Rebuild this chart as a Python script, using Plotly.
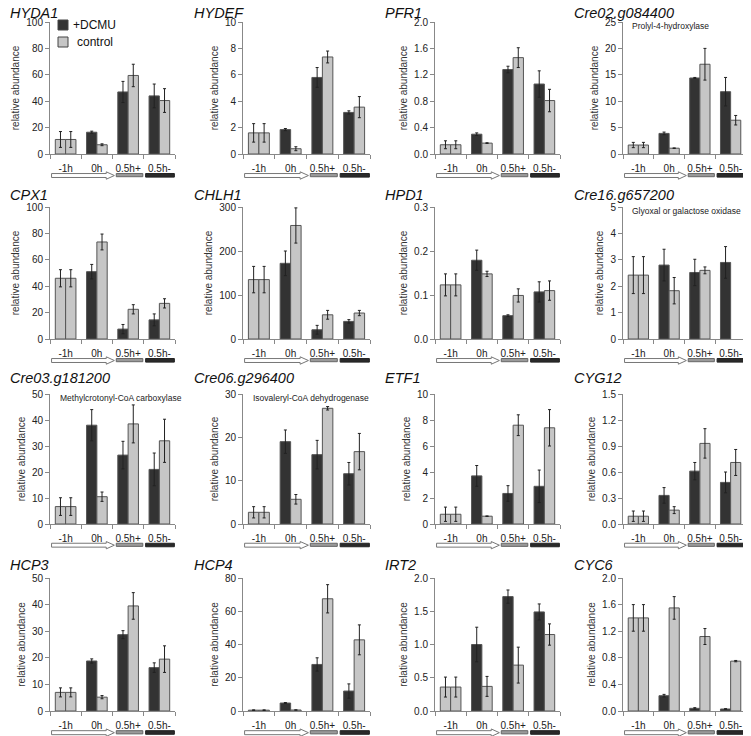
import plotly.graph_objects as go

# the page body has an 8px margin: the figure starts at (8, 8) on the page
OFF = 8
W, H = 751 - OFF, 736 - OFF

# categories / series
categories = ["-1h", "0h", "0.5h+", "0.5h-"]
genes = ["HYDA1", "HYDEF", "PFR1", "Cre02.g084400",
         "CPX1", "CHLH1", "HPD1", "Cre16.g657200",
         "Cre03.g181200", "Cre06.g296400", "ETF1", "CYG12",
         "HCP3", "HCP4", "IRT2", "CYC6"]
notes = {3: "Prolyl-4-hydroxylase", 7: "Glyoxal or galactose oxidase",
         8: "Methylcrotonyl-CoA carboxylase", 9: "Isovaleryl-CoA dehydrogenase"}

# +DCMU (first value = -1h reference, drawn in control colour)
dcmu_vals = [[11, 16.5, 47, 44], [1.6, 1.85, 5.8, 3.15], [0.14, 0.30, 1.28, 1.06], [1.7, 3.9, 14.4, 11.8],
             [46, 51, 7.5, 14.5], [135, 172, 21, 40], [0.123, 0.179, 0.053, 0.107], [2.42, 2.8, 2.52, 2.9],
             [6.7, 38, 26.5, 21], [2.7, 19, 16, 11.6], [0.75, 3.7, 2.35, 2.9], [0.09, 0.33, 0.61, 0.48],
             [7, 18.8, 28.7, 16.3], [0.5, 4.8, 28, 12], [0.36, 1.0, 1.72, 1.49], [1.4, 0.23, 0.04, 0.03]]
dcmu_errs = [[6, 0.8, 8, 9], [0.7, 0.08, 0.75, 0.12], [0.06, 0.02, 0.05, 0.2], [0.5, 0.25, 0.1, 2.7],
             [6.5, 5.5, 3.5, 4.5], [30, 28, 10, 4], [0.025, 0.023, 0.002, 0.023], [0.7, 0.6, 0.5, 0.6],
             [3.4, 6, 5.3, 6.3], [1.3, 2.7, 3.3, 2.6], [0.55, 0.8, 0.6, 1.25], [0.06, 0.09, 0.1, 0.12],
             [1.7, 0.8, 1.5, 1.8], [0.2, 0.3, 4, 4.3], [0.15, 0.26, 0.1, 0.12], [0.2, 0.02, 0.01, 0.005]]
ctrl_vals = [[11, 7, 59.5, 40.5], [1.6, 0.4, 7.35, 3.55], [0.14, 0.165, 1.46, 0.81], [1.7, 1.1, 17.0, 6.4],
             [46, 73.5, 22.5, 27], [135, 258, 55, 59], [0.123, 0.148, 0.099, 0.110], [2.42, 1.83, 2.6, None],
             [6.7, 10.5, 38.5, 32], [2.7, 5.7, 26.7, 16.7], [0.75, 0.6, 7.6, 7.4], [0.09, 0.16, 0.93, 0.71],
             [7, 5.2, 39.5, 19.5], [0.5, 0.6, 67.5, 42.8], [0.36, 0.37, 0.69, 1.15], [1.4, 1.55, 1.12, 0.75]]
ctrl_errs = [[6, 0.7, 8.5, 9], [0.7, 0.15, 0.45, 0.8], [0.06, 0.005, 0.15, 0.17], [0.5, 0.05, 3.0, 0.9],
             [6.5, 6, 3.5, 3.5], [30, 40, 10, 6], [0.025, 0.006, 0.015, 0.022], [0.7, 0.5, 0.13, None],
             [3.4, 1.8, 7.3, 8.3], [1.3, 1.1, 0.4, 4.2], [0.55, 0.02, 0.8, 1.4], [0.06, 0.04, 0.17, 0.15],
             [1.7, 0.6, 5, 5], [0.2, 0.1, 8.5, 9], [0.15, 0.15, 0.27, 0.16], [0.2, 0.17, 0.12, 0.01]]

y_max = [100, 10, 2.0, 25, 100, 300, 0.3, 5, 50, 30, 10, 1.5, 50, 80, 2.0, 2.0]
y_step = [20, 2, 0.4, 5, 20, 100, 0.1, 1, 10, 10, 2, 0.3, 10, 20, 0.5, 0.4]
y_fmt = ["d", "d", ".1f", "d", "d", "d", ".1f", "d", "d", "d", "d", ".1f", "d", "d", ".1f", ".1f"]

DARK = "#333333"
LIGHT = "#c6c6c6"
FONT = "Liberation Sans, Arial, sans-serif"

# panel geometry in page pixels
col_px = [(50, 175), (243, 370), (435, 560), (623, 746)]
row_px = [(22, 154), (207, 339), (394, 524), (578, 711)]
title_x = [9, 193, 384, 573]
title_y = [13, 195, 378, 565]


def px(v):
    return (v - OFF) / W


def py(v):
    return 1 - (v - OFF) / H


fig = go.Figure()
layout = dict(width=W, height=H, margin=dict(l=0, r=0, t=0, b=0, autoexpand=False),
              paper_bgcolor="white", plot_bgcolor="white",
              barmode="group", bargap=0.34, bargroupgap=0,
              showlegend=False, font=dict(family=FONT, size=10, color="#222"))
shapes = []
annotations = []

for i, gene in enumerate(genes):
    r, c = divmod(i, 4)
    n = "" if i == 0 else str(i + 1)
    xa, ya = "x" + n, "y" + n
    xs = list(range(len(categories)))

    # +DCMU bars (the -1h bar is shared and shown light)
    fig.add_trace(go.Bar(x=xs, y=dcmu_vals[i], xaxis=xa, yaxis=ya, name="+DCMU",
                         marker=dict(color=[LIGHT, DARK, DARK, DARK], line=dict(color="#555", width=1)),
                         error_y=dict(type="data", array=dcmu_errs[i], color="#222", thickness=1, width=1.5)))
    fig.add_trace(go.Bar(x=xs, y=ctrl_vals[i], xaxis=xa, yaxis=ya, name="control",
                         marker=dict(color=LIGHT, line=dict(color="#555", width=1)),
                         error_y=dict(type="data", array=ctrl_errs[i], color="#222", thickness=1, width=1.5)))

    x0, x1 = col_px[c]
    y0, y1 = row_px[r]
    layout["xaxis" + n] = dict(domain=[px(x0), px(x1)], anchor=ya, range=[-0.5, 3.5], automargin=False,
                               tickvals=xs, ticktext=categories, ticks="", ticklabelstandoff=5,
                               showline=True, linecolor="#888", linewidth=1, showgrid=False, zeroline=False,
                               tickfont=dict(size=10, color="#222"),
                               minor=dict(tickvals=[-0.5, 0.5, 1.5, 2.5, 3.5], ticks="outside",
                                          ticklen=4, tickcolor="#888", showgrid=False))
    layout["yaxis" + n] = dict(domain=[py(y1), py(y0)], anchor=xa, range=[0, y_max[i]], automargin=False,
                               dtick=y_step[i], tick0=0, tickformat=y_fmt[i], ticks="outside", ticklen=4,
                               tickcolor="#888", showline=True, linecolor="#888", linewidth=1,
                               showgrid=False, zeroline=False, tickfont=dict(size=10, color="#222"),
                               title=dict(text="relative abundance", font=dict(size=10, color="#333"), standoff=4))

    annotations.append(dict(text=gene, xref="paper", yref="paper", x=px(title_x[c]), y=py(title_y[r]),
                            xanchor="left", yanchor="middle", showarrow=False, borderpad=0,
                            font=dict(size=14.5, style="italic", color="#111")))
    if i in notes:
        annotations.append(dict(text=notes[i], xref=xa + " domain", yref=ya + " domain", x=0.06, y=0.97,
                                xanchor="left", yanchor="middle", showarrow=False,
                                font=dict(size=8.5, color="#222")))

    # timeline arrow / bars under the x axis
    ref = dict(xref=xa, yref=ya + " domain")
    shapes.append(dict(type="path", **ref,
                       path="M -0.45,-0.148 L 1.3,-0.148 L 1.3,-0.135 L 1.56,-0.163 L 1.3,-0.191 "
                            "L 1.3,-0.178 L -0.45,-0.178 Z",
                       fillcolor="white", line=dict(color="#777", width=1)))
    shapes.append(dict(type="rect", **ref, x0=1.62, x1=2.47, y0=-0.172, y1=-0.148,
                       fillcolor="#9a9a9a", line=dict(color="#666", width=1)))
    shapes.append(dict(type="rect", **ref, x0=2.56, x1=3.48, y0=-0.175, y1=-0.148,
                       fillcolor="#2a2a2a", line=dict(color="#222", width=1)))

# legend in first panel
for k, (lab, col) in enumerate([("+DCMU", DARK), ("control", LIGHT)]):
    ty = 25 + k * 17
    shapes.append(dict(type="rect", xref="paper", yref="paper", x0=px(58), x1=px(68),
                       y0=py(ty + 5), y1=py(ty - 5), fillcolor=col, line=dict(color="#444", width=1)))
    annotations.append(dict(text=lab, xref="paper", yref="paper", x=px(71 + 4 * k), y=py(ty),
                            xanchor="left", yanchor="middle", showarrow=False, font=dict(size=12, color="#111")))

layout["shapes"] = shapes
layout["annotations"] = annotations
fig.update_layout(layout)

fig.write_html("out.html")
